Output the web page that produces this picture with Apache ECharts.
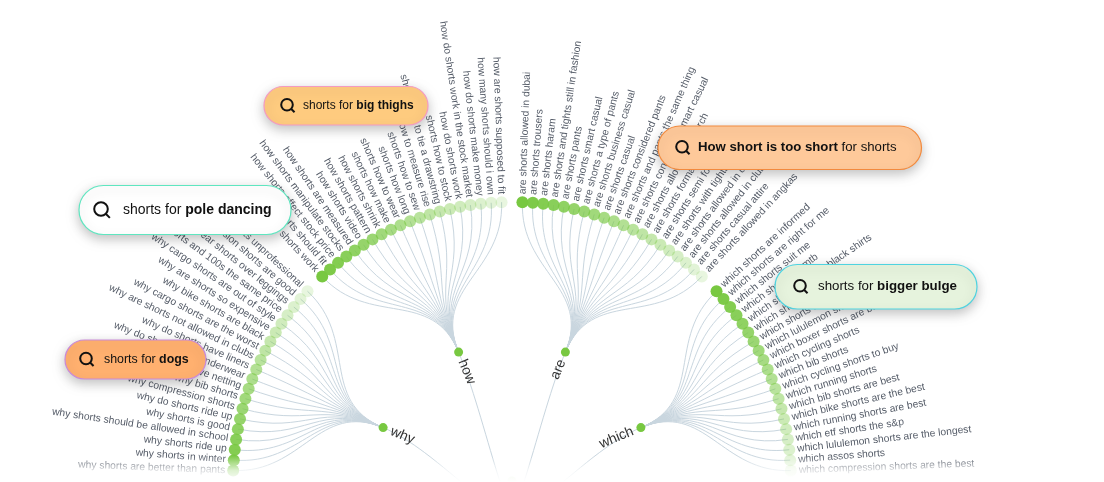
<!DOCTYPE html>
<html>
<head>
<meta charset="utf-8">
<title>shorts</title>
<style>
  html, body { margin: 0; padding: 0; background: #fff; overflow: hidden; }
  #chart { width: 1104px; height: 482px; }
</style>
<script src="https://cdn.jsdelivr.net/npm/echarts@6/dist/echarts.min.js"></script>
</head>
<body>
<div id="chart"></div>
<script>
// leaves run clockwise inside each branch, strongest first
const areLeaves = [
  'are shorts allowed in dubai', 'are shorts trousers', 'are shorts haram',
  'are shorts and tights still in fashion', 'are shorts pants', 'are shorts smart casual',
  'are shorts a type of pants', 'are shorts business casual', 'are shorts casual',
  'are shorts considered pants', 'are shorts and pants the same thing',
  'are shorts considered smart casual', 'are shorts allowed in church', 'are shorts formal',
  'are shorts semi formal', 'are shorts with tights', 'are shorts allowed in dubai 2019',
  'are shorts allowed in clubs', 'are shorts casual attire', 'are shorts allowed in angkas'
]
const whichLeaves = [
  'which shorts are informed', 'which shorts are right for me', 'which shorts suit me',
  'which shorts for mtb', 'which shorts go with black shirts', 'which shorts to buy',
  'which shorts are the best', 'which lululemon shorts', 'which boxer shorts are best',
  'which cycling shorts', 'which bib shorts', 'which cycling shorts to buy',
  'which running shorts', 'which bib shorts are best', 'which bike shorts are the best',
  'which running shorts are best', 'which etf shorts the s&p',
  'which lululemon shorts are the longest', 'which assos shorts',
  'which compression shorts are the best'
]
const whyLeaves = [
  'why shorts are better than pants', 'why shorts in winter', 'why shorts ride up',
  'why shorts should be allowed in school', 'why shorts is good', 'why do shorts ride up',
  'why compression shorts', 'why bib shorts', 'why do shorts have netting',
  'why do shorts have underwear', 'why do shorts have liners',
  'why are shorts not allowed in clubs', 'why cargo shorts are the worst',
  'why bike shorts are black', 'why are shorts so expensive',
  'why cargo shorts are out of style', 'why shorts and 100s the same price',
  'why wear shorts over leggings', 'why compression shorts are good',
  'why are shorts unprofessional'
]
const howLeaves = [
  'how shorts work', 'how shorts should fit', 'how shorts affect stock price',
  'how shorts manipulate stocks', 'how shorts are measured', 'how shorts video',
  'how shorts pattern', 'how shorts shrink', 'shorts how make', 'shorts how to wear',
  'shorts how long', 'shorts how to sew', 'shorts how to measure rise',
  'shorts how to tie a drawstring', 'shorts how to stock', 'how do shorts work',
  'how do shorts work in the stock market', 'how do shorts make money',
  'how many shorts should i own', 'how are shorts supposed to fit'
]
// the wheel goes on below the window, these branches only keep the angles right
const offscreenBranches = 4
const offscreenLeaves = 20

const GREEN = '#78c841'
const LINE = '#c9d6df'

function branch(name, leaves) {
  return {
    name: name,
    symbolSize: 9,
    itemStyle: { color: GREEN },
    label: { fontSize: 14, color: '#333', distance: 4 },
    children: leaves.map((leaf, i) => ({
      name: leaf,
      // alpha in the colour, item opacity would fade the label too
      itemStyle: { color: 'rgba(120,200,65,' + (1 - 0.83 * i / (leaves.length - 1)) + ')' }
    }))
  }
}

function hiddenBranch() {
  const hidden = {
    name: '',
    symbol: 'none',
    label: { show: false },
    lineStyle: { opacity: 0 },
    children: []
  }
  for (let i = 0; i < offscreenLeaves; i++) {
    hidden.children.push({ name: '', symbol: 'none', label: { show: false }, lineStyle: { opacity: 0 } })
  }
  return hidden
}

const rootChildren = [branch('are', areLeaves), branch('which', whichLeaves)]
for (let i = 0; i < offscreenBranches; i++) rootChildren.push(hiddenBranch())
rootChildren.push(branch('why', whyLeaves), branch('how', howLeaves))

// search pills laying over the wheel
function pill(p) {
  const cy = p.y + p.h / 2
  const r = p.big ? 6.8 : 5.8
  const cx = p.iconX
  return {
    type: 'group',
    z: 50,
    children: [
      {
        type: 'rect',
        z: 50,
        shape: { x: p.x, y: p.y, width: p.w, height: p.h, r: p.h / 2 },
        style: {
          fill: p.fill, stroke: p.stroke, lineWidth: 1.2,
          shadowBlur: 12, shadowOffsetY: 4, shadowColor: 'rgba(0,0,0,0.24)'
        }
      },
      {
        type: 'circle',
        z: 51,
        shape: { cx: cx, cy: cy - 1, r: r },
        style: { fill: 'none', stroke: '#111', lineWidth: 2 }
      },
      {
        type: 'line',
        z: 51,
        shape: { x1: cx + r * 0.7, y1: cy - 1 + r * 0.7, x2: cx + r * 1.3, y2: cy - 1 + r * 1.3 },
        style: { stroke: '#111', lineWidth: 2 }
      },
      {
        type: 'text',
        z: 51,
        x: p.textX,
        y: cy,
        style: {
          text: p.text,
          verticalAlign: 'middle',
          fontFamily: 'Liberation Sans',
          rich: {
            n: { fontSize: p.size, fontFamily: 'Liberation Sans', fill: '#111' },
            b: { fontSize: p.size, fontFamily: 'Liberation Sans', fontWeight: 'bold', fill: '#111' }
          }
        }
      }
    ]
  }
}

const pills = [
  { x: 264, y: 86.5, w: 164, h: 38.5, fill: '#fecb7f', stroke: '#f49ac1', iconX: 287, textX: 303, size: 12, text: '{n|shorts for }{b|big thighs}' },
  { x: 79, y: 185.5, w: 212, h: 49, fill: '#ffffff', stroke: '#5fe6c0', iconX: 101, textX: 123, size: 14, big: true, text: '{n|shorts for }{b|pole dancing}' },
  { x: 65, y: 340, w: 141, h: 39, fill: '#ffb06f', stroke: '#c98ad8', iconX: 86, textX: 104, size: 12.4, text: '{n|shorts for }{b|dogs}' },
  { x: 658, y: 126, w: 263.5, h: 43.5, fill: '#fec99a', stroke: '#f28a3e', iconX: 682, textX: 698, size: 13.2, text: '{b|How short is too short}{n| for shorts}' },
  { x: 775, y: 264.5, w: 202, h: 44.5, fill: '#e6f3dd', stroke: '#4fd3e0', iconX: 800, textX: 818, size: 13.3, text: '{n|shorts for }{b|bigger bulge}' }
]

// white fade along the bottom edge
const fade = {
  type: 'rect',
  z: 40,
  shape: { x: 0, y: 456, width: 1104, height: 26 },
  style: {
    fill: new echarts.graphic.LinearGradient(0, 0, 0, 1, [
      { offset: 0, color: 'rgba(255,255,255,0)' },
      { offset: 0.55, color: 'rgba(255,255,255,0.75)' },
      { offset: 1, color: 'rgba(255,255,255,1)' }
    ])
  }
}

const chart = echarts.init(document.getElementById('chart'))
chart.setOption({
  animation: false,
  backgroundColor: '#fff',
  series: [{
    type: 'tree',
    layout: 'radial',
    left: 233,
    top: 202,
    width: 558,
    height: 558,
    symbol: 'circle',
    symbolSize: 12,
    expandAndCollapse: false,
    initialTreeDepth: -1,
    roam: false,
    lineStyle: { color: LINE, width: 1, curveness: 0.5 },
    label: { fontFamily: 'Liberation Sans', fontSize: 10.3, color: '#555c68', distance: 2 },
    data: [{
      name: 'shorts',
      symbolSize: 9,
      itemStyle: { color: GREEN, opacity: 0.3 },
      label: { show: false },
      children: rootChildren
    }]
  }],
  graphic: { elements: [fade].concat(pills.map(pill)) }
})
</script>
</body>
</html>
